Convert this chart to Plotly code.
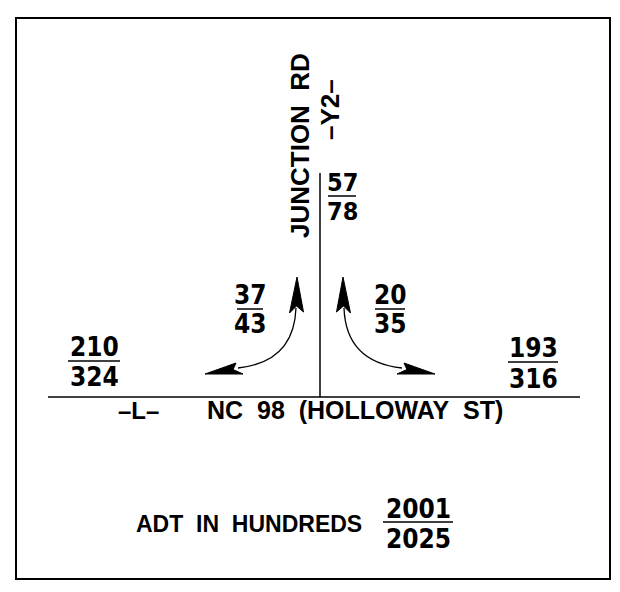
import plotly.graph_objects as go

# ---- data (ADT in hundreds) ----
locations = ["Junction Rd north", "NC 98 west", "NC 98 east", "left turn", "right turn"]
adt_2001 = [57, 210, 193, 37, 20]
adt_2025 = [78, 324, 316, 43, 35]
legend_years = ["2001", "2025"]
road_labels = ["JUNCTION\u00a0\u00a0RD", "\u2013Y2\u2013", "\u2013L\u2013",
               "NC\u00a0\u00a098\u00a0\u00a0(HOLLOWAY\u00a0\u00a0ST)"]
legend_title = "ADT\u00a0\u00a0IN\u00a0\u00a0HUNDREDS"

# ---- layout positions (page pixel coordinates) ----
# (center x, numerator y, bar y, denominator y, half bar width, font size)
frac_pos = [
    (342, 182, 196, 211, 14, 25),
    (94, 347, 361, 377, 26, 26),
    (533, 348, 362, 379, 25, 26),
    (250, 295, 309, 324, 13, 26),
    (390, 295, 309, 324, 15, 26),
]
legend_pos = (418, 509, 522, 539, 35, 26)

W, H = 620, 592
FONT = "Liberation Sans"
NUMFONT = "Liberation Sans Narrow, DejaVu Sans Condensed, Liberation Sans"
fig = go.Figure()
fig.add_trace(go.Scatter(x=[0, W], y=[0, H], mode="markers",
                         marker=dict(opacity=0), hoverinfo="skip", showlegend=False))

ann = []
shapes = []

def txt(x, y, s, size, angle=0, family=FONT):
    ann.append(dict(x=x, y=y, xref="x", yref="y", text="<b>%s</b>" % s, showarrow=False,
                    textangle=angle, font=dict(family=family, size=size, color="black"),
                    xanchor="center", yanchor="middle"))

def frac(num, den, pos):
    cx, ny, by, dy, hw, fs = pos
    txt(cx, ny, num, fs, family=NUMFONT)
    txt(cx, dy, den, fs, family=NUMFONT)
    shapes.append(dict(type="line", xref="x", yref="y", x0=cx - hw, x1=cx + hw, y0=by, y1=by,
                       line=dict(color="black", width=1.5)))

for a, b, p in zip(adt_2001, adt_2025, frac_pos):
    frac(str(a), str(b), p)
frac(legend_years[0], legend_years[1], legend_pos)

# road labels
txt(300, 146, road_labels[0], 26, -90)
txt(330, 110, road_labels[1], 26, -90)
txt(138, 410, road_labels[2], 24)
txt(355, 410, road_labels[3], 25)
txt(249, 524, legend_title, 23)

# border
shapes.append(dict(type="rect", xref="x", yref="y", x0=16, y0=18, x1=610, y1=579,
                   line=dict(color="black", width=2)))
# roads
shapes.append(dict(type="line", xref="x", yref="y", x0=48, x1=580, y0=397, y1=397,
                   line=dict(color="black", width=1.5)))
shapes.append(dict(type="line", xref="x", yref="y", x0=320, x1=320, y0=173, y1=397,
                   line=dict(color="black", width=1.5)))
# turning movement curves
shapes.append(dict(type="path", xref="x", yref="y", path="M 296 308 Q 294 362 238 368",
                   line=dict(color="black", width=1.3)))
shapes.append(dict(type="path", xref="x", yref="y", path="M 344 308 Q 346 362 402 368",
                   line=dict(color="black", width=1.3)))
# arrow heads
heads = [
    "M 297 277 L 289.5 313 L 296.5 306 L 303.5 312 Z",
    "M 205 374 L 236 363 L 233 369.5 L 243 374 Z",
    "M 343 277 L 350.5 313 L 343.5 306 L 336.5 312 Z",
    "M 435 374 L 404 363 L 407 369.5 L 397 374 Z",
]
for h in heads:
    shapes.append(dict(type="path", xref="x", yref="y", path=h, fillcolor="black",
                       line=dict(color="black", width=1)))

fig.update_layout(
    width=W, height=H, margin=dict(l=0, r=0, t=0, b=0),
    paper_bgcolor="white", plot_bgcolor="white",
    xaxis=dict(range=[0, W], visible=False, fixedrange=True),
    yaxis=dict(range=[H, 0], visible=False, fixedrange=True),
    annotations=ann, shapes=shapes, showlegend=False,
)
fig.write_html("out.html", config={"displayModeBar": False},
               post_script="document.body.style.margin='0';")
